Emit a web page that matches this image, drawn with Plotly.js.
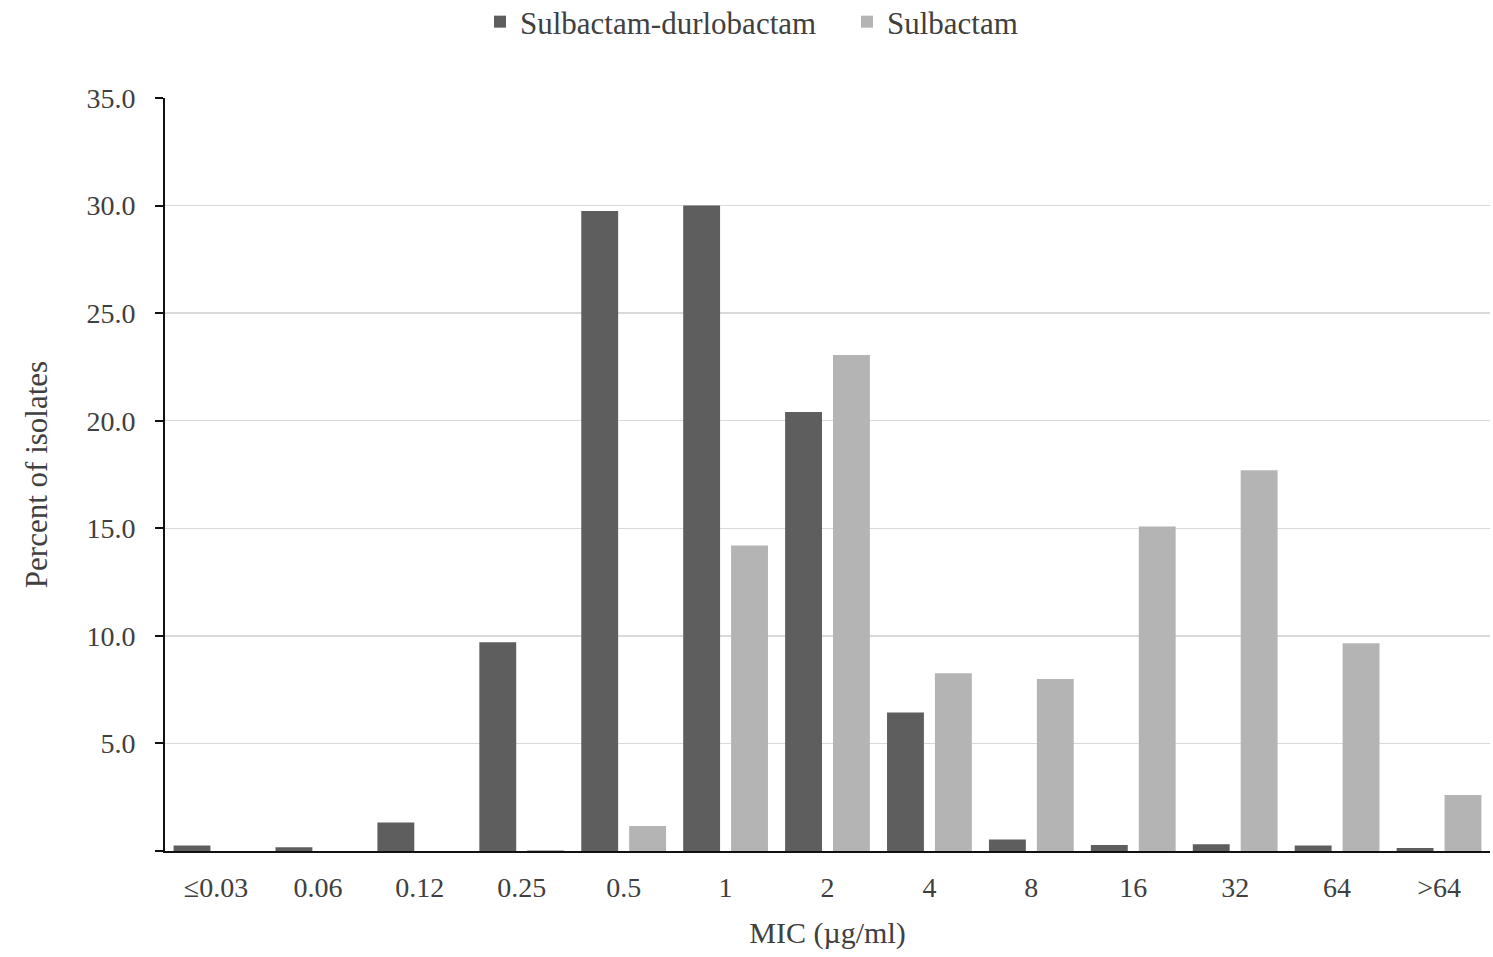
<!DOCTYPE html>
<html>
<head>
<meta charset="utf-8">
<script src="https://cdn.plot.ly/plotly-3.0.1.min.js"></script>
<style>html,body{margin:0;padding:0;background:#fff;}#chart{width:1493px;height:957px;}</style>
</head>
<body>
<div id="chart"></div>
<script>
const categories = ["≤0.03","0.06","0.12","0.25","0.5","1","2","4","8","16","32","64",">64"];
const sulbactamDurlobactam = [0.25,0.17,1.33,9.7,29.75,30.0,20.4,6.44,0.53,0.28,0.31,0.25,0.14];
const sulbactam = [0,0,0,0.05,1.16,14.2,23.05,8.26,8.0,15.08,17.7,9.66,2.6];
const yTickVals = [0,5,10,15,20,25,30,35];
const yTickText = ["","5.0","10.0","15.0","20.0","25.0","30.0","35.0"];

const font = {family: "Liberation Serif, Times New Roman, serif", color: "#404040"};

const traces = [
  {type: "bar", name: "Sulbactam-durlobactam", x: categories, y: sulbactamDurlobactam,
   marker: {color: "#5e5e5e"}},
  {type: "bar", name: "Sulbactam", x: categories, y: sulbactam,
   marker: {color: "#b4b4b4"}}
];

const layout = {
  width: 1493, height: 957,
  margin: {l: 165, r: 3, t: 98, b: 106, autoexpand: false},
  paper_bgcolor: "#fff", plot_bgcolor: "#fff",
  font: Object.assign({size: 27}, font),
  barmode: "group", bargap: 0.06, bargroupgap: 0.23,
  showlegend: true,
  legend: {orientation: "h", x: 480/1493, xref: "container", xanchor: "left",
           y: 0.977, yref: "container", yanchor: "middle",
           font: Object.assign({size: 31}, font), traceorder: "normal",
           entrywidth: 322, entrywidthmode: "pixels", tracegroupgap: 0},
  xaxis: {
    type: "category", showgrid: false, zeroline: false,
    showline: true, linecolor: "#111", linewidth: 2,
    ticks: "outside", ticklen: 10, tickcolor: "rgba(0,0,0,0)",
    tickfont: Object.assign({size: 28}, font),
    title: {text: "MIC (µg/ml)", font: Object.assign({size: 30}, font), standoff: 20}
  },
  yaxis: {
    range: [0, 35], tickvals: yTickVals, ticktext: yTickText,
    showgrid: true, gridcolor: "#d9d9d9", gridwidth: 1.5,
    zeroline: false, showline: true, linecolor: "#111", linewidth: 2,
    ticks: "outside", ticklen: 8, tickcolor: "#111", tickwidth: 2,
    ticklabelstandoff: 14,
    tickfont: Object.assign({size: 28}, font),
    title: {text: "Percent of isolates", font: Object.assign({size: 31}, font), standoff: 30}
  }
};

Plotly.newPlot("chart", traces, layout, {displayModeBar: false, staticPlot: true});
</script>
</body>
</html>
